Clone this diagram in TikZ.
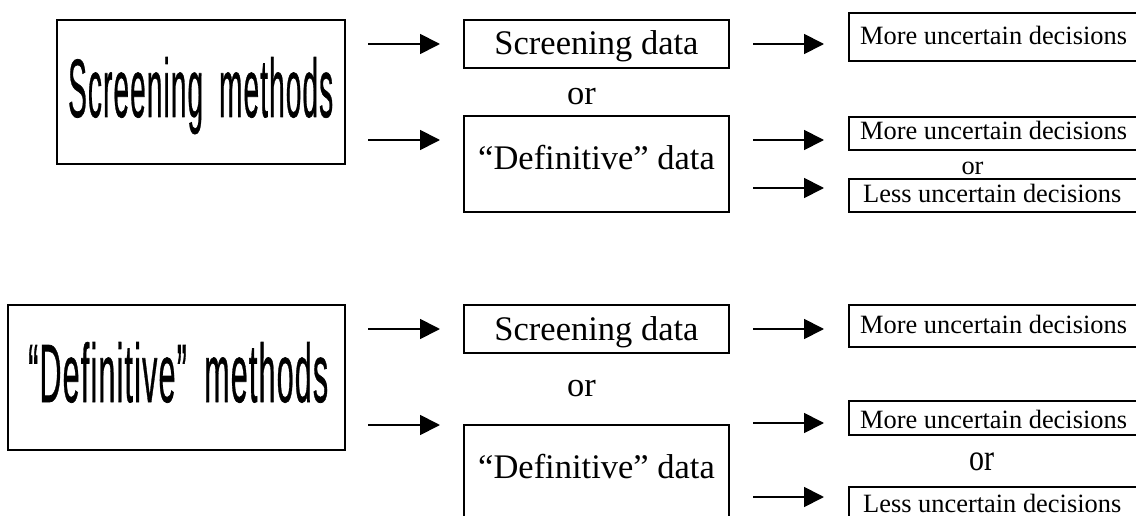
\documentclass[tikz,border=0pt]{standalone}
\usepackage{fontspec}
\setmainfont{Liberation Serif}
\newfontfamily\condfont[Ligatures=TeX, LetterSpace=4, WordSpace=1.8, FakeBold=0.9]{Liberation Sans}
\usetikzlibrary{arrows.meta}
\tikzset{
  box/.style={draw=black, line width=1.8pt},
  arr/.style={line width=1.8pt, -{Triangle[length=20pt,width=20pt]}},
  datatext/.style={anchor=base, inner sep=0pt, font=\fontsize{34.5}{40}\selectfont},
  dectext/.style={anchor=base west, inner sep=0pt, font=\fontsize{26.4}{30}\selectfont},
  ortext/.style={anchor=base, inner sep=0pt},
  methtext/.style={anchor=base west, inner sep=0pt},
}
\begin{document}
\begin{tikzpicture}[x=1pt,y=-1pt]
\useasboundingbox (0,0) rectangle (1136,516);
\clip (0,0) rectangle (1136,516);
% ---------- top group ----------
\draw[box] (57,20) rectangle (345,164);
\node[methtext] (m1) at (68,117) {\resizebox{265pt}{60pt}{\condfont\fontsize{84}{84}\selectfont Screening methods}};
\draw[box] (464,20) rectangle (729,68);
\node[datatext] (sd1) at (596.5,55) {Screening data};
\node[ortext, font=\fontsize{34.5}{40}\selectfont] (or1) at (581.5,105) {or};
\draw[box] (464,116) rectangle (729,212);
\node[datatext] (dd1) at (596.5,170) {“Definitive” data};
\draw[box] (849,13) rectangle (1145,61);
\node[dectext] (d11) at (860,45) {More uncertain decisions};
\draw[box] (849,117) rectangle (1145,150);
\node[dectext] (d12) at (860,140) {More uncertain decisions};
\node[ortext, font=\fontsize{26.4}{30}\selectfont] (or2) at (972.5,175) {or};
\draw[box] (849,179) rectangle (1145,212);
\node[dectext] (d13) at (863,203) {Less uncertain decisions};
\coordinate (a1s) at (368,44);  \coordinate (a1e) at (440,44);
\coordinate (a2s) at (368,140); \coordinate (a2e) at (440,140);
\coordinate (a3s) at (753,44);  \coordinate (a3e) at (824,44);
\coordinate (a4s) at (753,140); \coordinate (a4e) at (824,140);
\coordinate (a5s) at (753,188); \coordinate (a5e) at (824,188);
\draw[arr] (a1s) -- (a1e);
\draw[arr] (a2s) -- (a2e);
\draw[arr] (a3s) -- (a3e);
\draw[arr] (a4s) -- (a4e);
\draw[arr] (a5s) -- (a5e);
% ---------- bottom group ----------
\draw[box] (8,305) rectangle (345,450);
\node[methtext] (m2) at (28,402) {\resizebox{300pt}{60pt}{\condfont\fontsize{84}{84}\selectfont “Definitive” methods}};
\draw[box] (464,305) rectangle (729,353);
\node[datatext] (sd2) at (596.5,340) {Screening data};
\node[ortext, font=\fontsize{34.5}{40}\selectfont] (or3) at (581.5,396) {or};
\draw[box] (464,425) rectangle (729,530);
\node[datatext] (dd2) at (596.5,478) {“Definitive” data};
\draw[box] (849,305) rectangle (1145,347);
\node[dectext] (d21) at (860,333) {More uncertain decisions};
\draw[box] (849,401) rectangle (1145,435);
\node[dectext] (d22) at (860,428) {More uncertain decisions};
\node[ortext, font=\fontsize{30}{34}\selectfont] (or4) at (981.5,470) {\scalebox{1}[1.25]{or}};
\draw[box] (849,487) rectangle (1145,530);
\node[dectext] (d23) at (863,512) {Less uncertain decisions};
\coordinate (b1s) at (368,329);  \coordinate (b1e) at (440,329);
\coordinate (b2s) at (368,425);  \coordinate (b2e) at (440,425);
\coordinate (b3s) at (753,329);  \coordinate (b3e) at (824,329);
\coordinate (b4s) at (753,423);  \coordinate (b4e) at (824,423);
\coordinate (b5s) at (753,497);  \coordinate (b5e) at (824,497);
\draw[arr] (b1s) -- (b1e);
\draw[arr] (b2s) -- (b2e);
\draw[arr] (b3s) -- (b3e);
\draw[arr] (b4s) -- (b4e);
\draw[arr] (b5s) -- (b5e);
\end{tikzpicture}
\end{document}
